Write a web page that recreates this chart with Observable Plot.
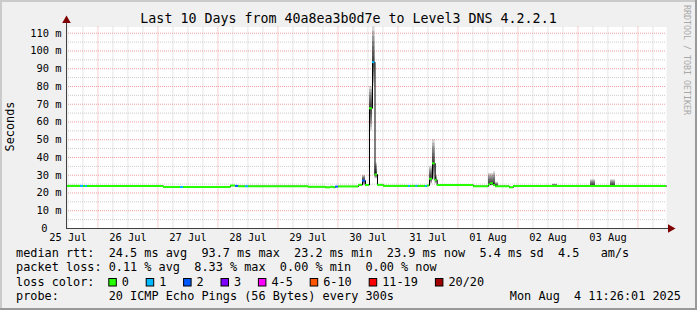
<!DOCTYPE html>
<html><head><meta charset="utf-8">
<script src="https://cdn.jsdelivr.net/npm/d3@7"></script>
<script src="https://cdn.jsdelivr.net/npm/@observablehq/plot@0.6"></script>
<style>
html,body{margin:0;padding:0;background:#f0f0f0;}
#wrap{position:relative;width:697px;height:310px;background:#f0f0f0;overflow:hidden;}
#wrap svg{position:absolute;left:0;top:0;}
</style></head><body><div id="wrap"></div>
<script>
// ---------- data ----------
const title = "Last 10 Days from 40a8ea3b0d7e to Level3 DNS 4.2.2.1";
const yLabel = "Seconds";
const watermark = "RRDTOOL / TOBI OETIKER";
const startTime = "07-25 11:26";
const endTime = "08-04 11:26";

// median rtt (ms) as steps: start time, median, lost pings (of 20)
const segStart = ["07-25 11:26","07-25 17:02","07-25 18:14","07-25 19:02","07-25 19:50",
  "07-27 02:14","07-27 09:02","07-27 10:14","07-28 05:02","07-28 07:02","07-28 08:14",
  "07-28 11:02","07-28 12:14","07-29 12:14","07-29 19:02","07-29 21:02","07-29 22:14",
  "07-29 23:02","07-30 00:14","07-30 08:14","07-30 09:50","07-30 11:02","07-30 12:38",
  "07-30 13:50","07-30 14:50","07-30 15:50","07-30 18:14","07-31 04:14","07-31 05:02",
  "07-31 07:14","07-31 08:02","07-31 11:02","07-31 11:50","07-31 12:38","07-31 13:50",
  "07-31 14:55","07-31 15:43","08-01 06:14","08-01 12:14","08-01 13:02","08-01 14:14",
  "08-01 15:02","08-01 20:38","08-01 22:14"];
const segMedian = [24.0,24.0,24.0,24.0,24.0,
  23.4,23.4,23.4,24.2,24.0,23.8,
  23.8,23.8,23.5,23.2,23.5,23.2,
  23.6,23.7,24.6,27.0,24.5,67.7,
  93.7,30.4,24.6,24.0,24.0,24.0,
  24.0,24.0,24.0,24.2,28.0,36.7,
  27.4,24.5,23.8,24.8,25.5,24.5,
  23.8,23.2,23.9];
const segLoss = [0,1,0,1,0,
  0,1,0,0,2,0,
  1,0,0,0,0,0,
  2,0,0,2,0,0,
  1,0,0,0,1,0,
  1,0,1,0,0,0,
  0,0,0,0,0,0,
  0,0,0];

// smoke (spread of the 20 pings, ms)
const smokeStart = ["07-30 09:50","07-30 12:38","07-30 13:50","07-30 14:50","07-31 12:38",
  "07-31 13:50","07-31 14:55","08-01 12:14","08-01 14:14","08-01 15:02","08-02 13:50",
  "08-03 05:02","08-03 13:02"];
const smokeEnd = ["07-30 11:02","07-30 13:50","07-30 14:50","07-30 15:50","07-31 13:50",
  "07-31 14:55","07-31 15:43","08-01 14:14","08-01 15:02","08-01 16:14","08-02 15:50",
  "08-03 07:02","08-03 15:02"];
const smokeLo = [24,55,80,28,25,27,25,24,24,23.8,23.8,24,24];
const smokeHi = [30,80,114,37,35,50,30,31,32,26,25,27.5,27.5];

const yTicks = [0,10,20,30,40,50,60,70,80,90,100,110];
const yMinor = [5,15,25,35,45,55,65,75,85,95,105];
const xTickTimes = ["07-25 12:00","07-26 12:00","07-27 12:00","07-28 12:00","07-29 12:00",
  "07-30 12:00","07-31 12:00","08-01 12:00","08-02 12:00","08-03 12:00"];

const lossLabels = ["0","1","2","3","4-5","6-10","11-19","20/20"];
const lossUpper  = [0,1,2,3,5,10,19,20];
const lossColors = ["#26ff00","#00b8ff","#0059ff","#7e00ff","#ff00ff","#ff5500","#ff0000","#a10000"];

const legendRows = [
  "median rtt:  24.5 ms avg  93.7 ms max  23.2 ms min  23.9 ms now  5.4 ms sd  4.5   am/s",
  "packet loss: 0.11 % avg  8.33 % max  0.00 % min  0.00 % now",
  "loss color:",
  "probe:       20 ICMP Echo Pings (56 Bytes) every 300s"
];
const stamp = "Mon Aug  4 11:26:01 2025";

// ---------- build ----------
const parse = s => d3.utcParse("%Y-%m-%d %H:%M")("2025-" + s);
const keep = s => s.replace(/ /g, "\u00a0");
const t0 = parse(startTime), t1 = parse(endTime);
const segTimes = segStart.map(parse);
const segs = segTimes.map((t, i) => ({
  start: t, end: i + 1 < segTimes.length ? segTimes[i + 1] : t1,
  med: segMedian[i],
  color: lossColors[lossUpper.findIndex(u => segLoss[i] <= u)]
}));
const linePts = segs.map(d => ({t: d.start, v: d.med})).concat([{t: t1, v: segMedian[segMedian.length - 1]}]);

const N = 7;
const smokeLayers = [];
smokeStart.forEach((s, i) => {
  const a = parse(s), b = parse(smokeEnd[i]);
  const k = d3.bisectRight(segTimes, a) - 1;
  const m = segMedian[k];
  for (let j = 0; j < N; j++) {
    smokeLayers.push({a, b,
      lo: smokeLo[i] + (m - smokeLo[i]) * j / N,
      hi: smokeHi[i] - (smokeHi[i] - m) * j / N});
  }
});

const majorX = d3.utcDay.range(new Date(+t0 + 1), t1);
const minorX = d3.utcHour.every(6).range(t0, t1).filter(d => d.getUTCHours() !== 0);
const axisEnd = new Date(+t1 + 4 * 24 * 60e3);   // a few px past the plot for the arrow
const yTop = 117.2;

const W = 697, H = 310;
const gridRed = "#f0a0a0", gridGrey = "#cccccc", axisCol = "#404040", arrowCol = "#7f0000";

const chart = Plot.plot({
  width: W, height: H,
  marginLeft: 66, marginRight: 31, marginTop: 26.5, marginBottom: 82,
  x: {type: "utc", domain: [t0, t1]},
  y: {domain: [0, 113.5]},
  color: {type: "identity"},
  style: {background: "transparent", fontFamily: "DejaVu Sans Mono", fontSize: "10.4px", overflow: "visible", color: "#000"},
  marks: [
    Plot.frame({fill: "white", stroke: null}),
    Plot.ruleX(minorX, {stroke: gridGrey, strokeDasharray: "1,1"}),
    Plot.ruleY(yMinor, {stroke: gridGrey, strokeDasharray: "1,1"}),
    Plot.ruleX(majorX, {stroke: gridRed, strokeDasharray: "1,1"}),
    Plot.ruleY(yTicks.filter(d => d > 0), {stroke: gridRed, strokeDasharray: "1,1"}),
    Plot.rect(smokeLayers, {x1: "a", x2: "b", y1: "lo", y2: "hi", fill: "#000", fillOpacity: 0.16, clip: true}),
    Plot.line(linePts, {x: "t", y: "v", curve: "step-after", stroke: "#000", strokeWidth: 1}),
    Plot.ruleY(segs, {x1: "start", x2: "end", y: "med", stroke: "color", strokeWidth: 2}),
    Plot.ruleY([0], {x1: t0, x2: axisEnd, stroke: axisCol}),
    Plot.ruleX([t0], {y1: 0, y2: yTop, stroke: axisCol}),
    Plot.dot([{x: axisEnd, y: 0}], {x: "x", y: "y", symbol: "triangle", rotate: 90, r: 3.2, fill: arrowCol, stroke: null}),
    Plot.dot([{x: t0, y: yTop}], {x: "x", y: "y", symbol: "triangle", r: 3.2, fill: arrowCol, stroke: null}),
    Plot.axisX({ticks: xTickTimes.map(parse), tickFormat: d3.utcFormat("%d %b"), tickSize: 0, tickPadding: 5, fill: "#000"}),
    Plot.axisY({ticks: yTicks.filter(d => d > 0), tickFormat: d => `${d} m`, tickSize: 0, tickPadding: 5, fill: "#000"}),
    Plot.axisY({ticks: [0], tickFormat: d => `${d}`, tickSize: 0, tickPadding: 19, fill: "#000"})
  ]
});
const wrap = document.getElementById("wrap");
wrap.append(chart);

// ---------- overlay: frame, title, labels, legend ----------
const ov = d3.select(wrap).append("svg").attr("width", W).attr("height", H)
  .style("font-family", "DejaVu Sans Mono").style("pointer-events", "none");
ov.append("rect").attr("x", 0).attr("y", 0).attr("width", W).attr("height", 2).attr("fill", "#cbcbcb");
ov.append("rect").attr("x", 0).attr("y", 0).attr("width", 2).attr("height", H).attr("fill", "#cbcbcb");
ov.append("rect").attr("x", W - 2).attr("y", 0).attr("width", 2).attr("height", H).attr("fill", "#999");
ov.append("rect").attr("x", 0).attr("y", H - 2).attr("width", W).attr("height", 2).attr("fill", "#999");

ov.append("text").attr("x", W / 2).attr("y", 23).attr("text-anchor", "middle")
  .style("font-size", "13.3px").text(title);
ov.append("text").attr("transform", "translate(14,126.5) rotate(-90)").attr("text-anchor", "middle")
  .style("font-size", "11.85px").text(yLabel);
ov.append("text").attr("transform", "translate(683.5,5) rotate(90)").attr("text-anchor", "start")
  .style("font-size", "8.3px").attr("fill", "#a8a8a8").text(watermark);

const rowY = [257, 271.3, 285.5, 299.8];
const lg = ov.append("g").style("font-size", "11.85px");
legendRows.forEach((r, i) => lg.append("text").attr("x", 16).attr("y", rowY[i]).text(keep(r)));
lg.append("text").attr("x", 681).attr("y", rowY[3]).attr("text-anchor", "end").text(keep(stamp));
let bx = 108.3;
lossLabels.forEach((l, i) => {
  lg.append("rect").attr("x", bx + 0.5).attr("y", 278.5).attr("width", 7.5).attr("height", 7.5)
    .attr("fill", lossColors[i]).attr("stroke", "#000").attr("stroke-width", 1);
  lg.append("text").attr("x", bx + 13.5).attr("y", rowY[2]).text(l);
  bx += 30.2 + l.length * 7.2;
});
</script></body></html>
